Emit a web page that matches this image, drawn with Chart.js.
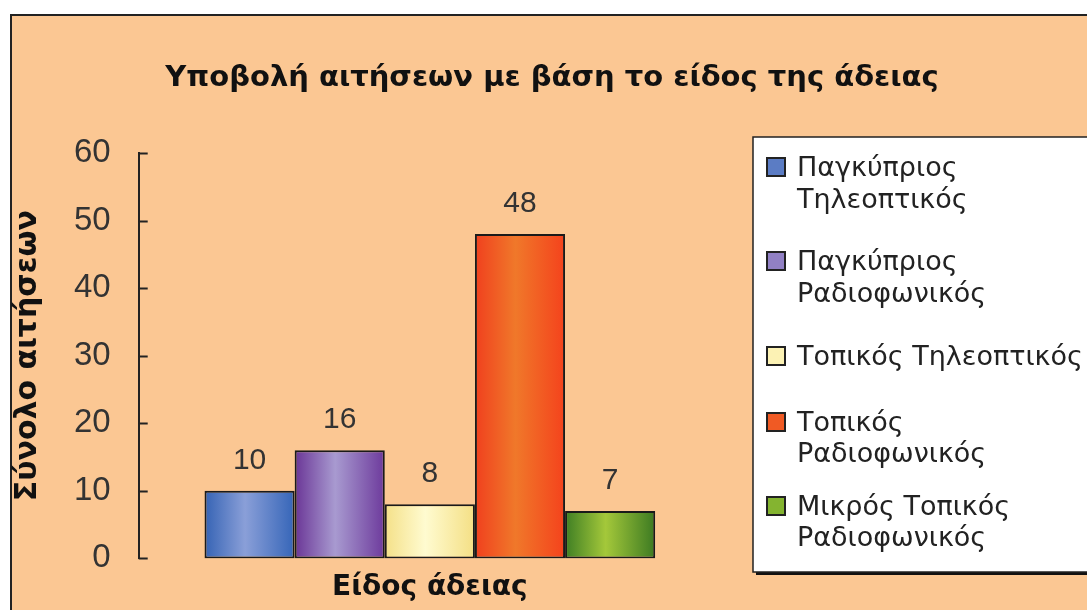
<!DOCTYPE html>
<html>
<head>
<meta charset="utf-8">
<script src="https://cdn.jsdelivr.net/npm/chart.js@4.4.1/dist/chart.umd.min.js"></script>
<style>
  html, body { margin: 0; padding: 0; background: #fff; }
  #wrap { width: 1087px; height: 610px; position: relative; }
</style>
</head>
<body>
<div id="wrap"><canvas id="chart" width="1087" height="610"></canvas></div>
<script>
// Data
const chartTitle = 'Υποβολή αιτήσεων με βάση το είδος της άδειας';
const categories = ['Είδος άδειας'];
const seriesLabels = [
  ['Παγκύπριος', 'Τηλεοπτικός'],
  ['Παγκύπριος', 'Ραδιοφωνικός'],
  ['Τοπικός Τηλεοπτικός'],
  ['Τοπικός', 'Ραδιοφωνικός'],
  ['Μικρός Τοπικός', 'Ραδιοφωνικός']
];
const seriesValues = [10, 16, 8, 48, 7];
const yTicks = [0, 10, 20, 30, 40, 50, 60];

// gradient stops per series: edge, highlight, edge
const barShades = [
  ['#3563b4', '#8a9fd8', '#3565b8'],
  ['#6a3596', '#a89ad0', '#6d3a9c'],
  ['#f4e088', '#fffbd0', '#f4df84'],
  ['#f0401e', '#f0782a', '#f4421c'],
  ['#3e7e24', '#a4c83a', '#3c7a22']
];
const legendSwatch = ['#5b7cc4', '#9180c4', '#fcf2b4', '#f05a24', '#84b430'];

const peach = '#fbc793';

// background panel + border + title
const panelPlugin = {
  id: 'panel',
  beforeDraw(chart) {
    const c = chart.ctx;
    c.save();
    c.fillStyle = '#fff';
    c.fillRect(0, 0, chart.width, chart.height);
    c.fillStyle = peach;
    c.fillRect(10, 14, chart.width, chart.height);
    c.strokeStyle = '#222';
    c.lineWidth = 2;
    c.beginPath();
    c.moveTo(11, chart.height + 2);
    c.lineTo(11, 15);
    c.lineTo(chart.width + 2, 15);
    c.stroke();

    c.fillStyle = '#111';
    c.font = 'bold 29px "DejaVu Sans", sans-serif';
    c.textAlign = 'center';
    c.textBaseline = 'alphabetic';
    c.fillText(chartTitle, 552, 86);
    c.restore();
  }
};

// horizontal gradient on each bar
const gradientPlugin = {
  id: 'barGradient',
  beforeDatasetsDraw(chart) {
    const c = chart.ctx;
    chart.data.datasets.forEach((ds, i) => {
      const meta = chart.getDatasetMeta(i);
      meta.data.forEach(bar => {
        const x0 = bar.x - bar.width / 2, x1 = bar.x + bar.width / 2;
        const g = c.createLinearGradient(x0, 0, x1, 0);
        const s = barShades[i];
        g.addColorStop(0, s[0]);
        g.addColorStop(0.45, s[1]);
        g.addColorStop(1, s[2]);
        bar.options.backgroundColor = g;
      });
    });
  }
};

// value labels, inner y ticks and the legend box
const extrasPlugin = {
  id: 'extras',
  afterDraw(chart) {
    const c = chart.ctx;
    const y = chart.scales.y;
    c.save();
    // tick marks pointing into the plot
    c.strokeStyle = '#222';
    c.lineWidth = 2;
    yTicks.forEach(t => {
      const py = Math.round(y.getPixelForValue(t)) + 0.5;
      c.beginPath();
      c.moveTo(y.right, py);
      c.lineTo(y.right + 9, py);
      c.stroke();
    });

    // values above bars
    c.fillStyle = '#333';
    c.font = '30px "Liberation Sans", Arial, sans-serif';
    c.textAlign = 'center';
    c.textBaseline = 'alphabetic';
    chart.data.datasets.forEach((ds, i) => {
      const bar = chart.getDatasetMeta(i).data[0];
      c.fillText(String(ds.data[0]), bar.x, bar.y - 22);
    });

    // legend
    const lx = 753, ly = 137, lb = 572;
    c.fillStyle = '#111';
    c.fillRect(lx + 3, ly + 3, chart.width, lb - ly);
    c.fillStyle = '#fff';
    c.fillRect(lx, ly, chart.width, lb - ly);
    c.strokeStyle = '#222';
    c.lineWidth = 1.5;
    c.strokeRect(lx, ly, chart.width, lb - ly);

    const rows = [[176, 208], [270, 302], [365], [431, 462], [515, 546]];
    c.font = '27px "DejaVu Sans", sans-serif';
    c.textAlign = 'left';
    c.textBaseline = 'alphabetic';
    chart.data.datasets.forEach((ds, i) => {
      const r = rows[i];
      c.fillStyle = legendSwatch[i];
      c.fillRect(767, r[0] - 18, 18, 18);
      c.strokeStyle = '#222';
      c.lineWidth = 2;
      c.strokeRect(767, r[0] - 18, 18, 18);
      c.fillStyle = '#222';
      ds.label.forEach((line, k) => c.fillText(line, 797, r[k]));
    });
    c.restore();
  }
};

const datasets = seriesValues.map((v, i) => ({
  label: seriesLabels[i],
  data: [v],
  backgroundColor: legendSwatch[i],
  borderColor: '#1a1a1a',
  borderWidth: 2,
  borderSkipped: false,
  categoryPercentage: 0.774,
  barPercentage: 1.0
}));

new Chart(document.getElementById('chart'), {
  type: 'bar',
  data: { labels: categories, datasets },
  plugins: [panelPlugin, gradientPlugin, extrasPlugin],
  options: {
    responsive: false,
    animation: false,
    events: [],
    layout: { padding: { left: 10, right: 366, top: 153, bottom: 5 } },
    plugins: {
      legend: { display: false },
      tooltip: { enabled: false },
      title: { display: false }
    },
    scales: {
      x: {
        grid: { display: false, drawTicks: false },
        border: { display: false },
        ticks: { display: false },
        title: {
          display: true,
          text: categories[0],
          color: '#111',
          font: { family: '"DejaVu Sans", sans-serif', size: 28, weight: 'bold' },
          padding: { top: 13, bottom: 0 }
        }
      },
      y: {
        min: 0,
        max: 60,
        afterBuildTicks(scale) { scale.ticks = yTicks.map(v => ({ value: v })); },
        grid: { display: false, drawTicks: false },
        border: { display: true, color: '#222', width: 2 },
        ticks: {
          color: '#333',
          padding: 28,
          font: { family: '"Liberation Sans", Arial, sans-serif', size: 33 }
        },
        title: {
          display: true,
          text: 'Σύνολο αιτήσεων',
          color: '#111',
          font: { family: '"DejaVu Sans", sans-serif', size: 30, weight: 'bold' },
          padding: { top: 0, bottom: 0 }
        }
      }
    }
  }
});
</script>
</body>
</html>
